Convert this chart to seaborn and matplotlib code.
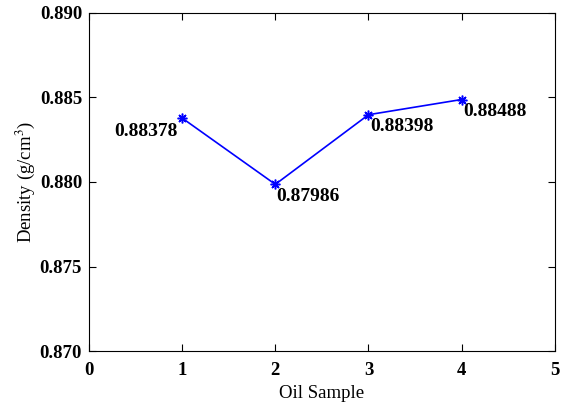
import numpy as np
import pandas as pd
import matplotlib
matplotlib.use("Agg")
import matplotlib.pyplot as plt
import seaborn as sns

# Oil density per sample
samples = [1, 2, 3, 4]
density = [0.88378, 0.87986, 0.88398, 0.88488]
labels = ["0.88378", "0.87986", "0.88398", "0.88488"]

df = pd.DataFrame({"Oil Sample": samples, "Density": density})

sns.set_style("ticks")
plt.rcParams["font.family"] = ["Liberation Serif", "DejaVu Serif"]
plt.rcParams["mathtext.fontset"] = "stix"
plt.rcParams["text.color"] = "black"
plt.rcParams["axes.labelcolor"] = "black"
plt.rcParams["xtick.color"] = "black"
plt.rcParams["ytick.color"] = "black"
plt.rcParams["axes.edgecolor"] = "black"

fig = plt.figure(figsize=(5.65, 4.05), dpi=100)
ax = fig.add_axes([0.1575, 0.1333, 0.8245, 0.8347])

sns.lineplot(
    data=df,
    x="Oil Sample",
    y="Density",
    color="#0000ff",
    linewidth=1.2,
    marker=(8, 2, 0),
    markersize=7,
    markeredgecolor="#0000ff",
    markeredgewidth=1.1,
    ax=ax,
)

# value labels: first one sits to the left, the rest to the lower right
for i, (x, y, txt) in enumerate(zip(samples, density, labels)):
    if i == 0:
        ax.annotate(txt, (x, y), xytext=(-3, -10), textcoords="offset points",
                    ha="right", va="center", fontsize=14, fontweight="bold")
    else:
        ax.annotate(txt, (x, y), xytext=(1, -8.5), textcoords="offset points",
                    ha="left", va="center", fontsize=14, fontweight="bold")

ax.set_xlim(0, 5)
ax.set_ylim(0.870, 0.890)
ax.set_xticks(np.arange(0, 6, 1))
ax.set_yticks(np.arange(0.870, 0.8901, 0.005))
ax.set_yticklabels([f"{v:.3f}" for v in np.arange(0.870, 0.8901, 0.005)])
ax.tick_params(direction="in", length=5, width=0.8, top=True, right=True,
               labelsize=13.5)
ax.tick_params(axis="x", pad=8)
ax.tick_params(axis="y", pad=5)
for lbl in ax.get_xticklabels() + ax.get_yticklabels():
    lbl.set_fontweight("bold")
for spine in ax.spines.values():
    spine.set_visible(True)
    spine.set_linewidth(0.8)

ax.set_xlabel("Oil Sample", fontsize=13.5, labelpad=4)
ax.set_ylabel(r"Density (g/cm$^3$)", fontsize=13.5, labelpad=2)

fig.savefig("out.png", dpi=100)
plt.close(fig)
